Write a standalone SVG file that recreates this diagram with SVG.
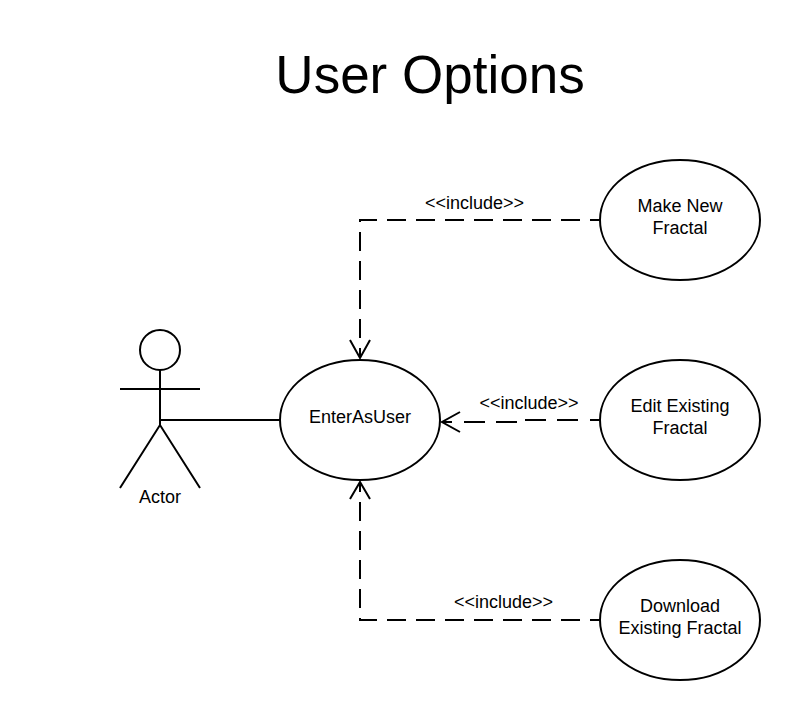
<svg xmlns="http://www.w3.org/2000/svg" width="800" height="720" viewBox="0 0 800 720">
<style>
text{font-family:"Liberation Sans",Arial,sans-serif;fill:#000;text-anchor:middle}
.label{font-size:18px}
.title{font-size:53px}
.shape{fill:#fff;stroke:#000;stroke-width:2}
.line{fill:none;stroke:#000;stroke-width:2}
.dash{fill:none;stroke:#000;stroke-width:2;stroke-dasharray:19 10;stroke-dashoffset:9}
</style>
<rect width="800" height="720" fill="#fff"/>
<text class="title" x="430" y="93">User Options</text>
<g id="connectors">
<path class="line" d="M160 420H280"/>
<path class="dash" d="M600 220H360V358"/>
<path class="line" d="M350 340L360 358L370 340"/>
<path class="line" d="M600 420H590M578 420H557M546 420H525M517 422H496M485 422H464M452 422H442"/>
<path class="line" d="M460 412L442 422L460 432"/>
<path class="dash" d="M600 620H360V482"/>
<path class="line" d="M350 499L360 482L370 499"/>
<text class="label" x="474.500" y="209">&lt;&lt;include&gt;&gt;</text>
<text class="label" x="529" y="409">&lt;&lt;include&gt;&gt;</text>
<text class="label" x="503.500" y="608">&lt;&lt;include&gt;&gt;</text>
</g>
<g id="actor">
<circle class="shape" cx="160" cy="350" r="20"/>
<path class="line" d="M160 370V425M120 389H200M120 488L160 425L200 488"/>
<text class="label" x="160" y="503">Actor</text>
</g>
<g id="enter-as-user">
<ellipse class="shape" cx="360" cy="420" rx="80" ry="60"/>
<text class="label" x="360" y="423">EnterAsUser</text>
</g>
<g id="make-new-fractal">
<ellipse class="shape" cx="680" cy="220" rx="80" ry="60"/>
<text class="label" x="680" y="212">Make New</text>
<text class="label" x="680" y="234">Fractal</text>
</g>
<g id="edit-existing-fractal">
<ellipse class="shape" cx="680" cy="420" rx="80" ry="60"/>
<text class="label" x="680" y="412">Edit Existing</text>
<text class="label" x="680" y="434">Fractal</text>
</g>
<g id="download-existing-fractal">
<ellipse class="shape" cx="680" cy="620" rx="80" ry="60"/>
<text class="label" x="680" y="612">Download</text>
<text class="label" x="680" y="634">Existing Fractal</text>
</g>
</svg>
